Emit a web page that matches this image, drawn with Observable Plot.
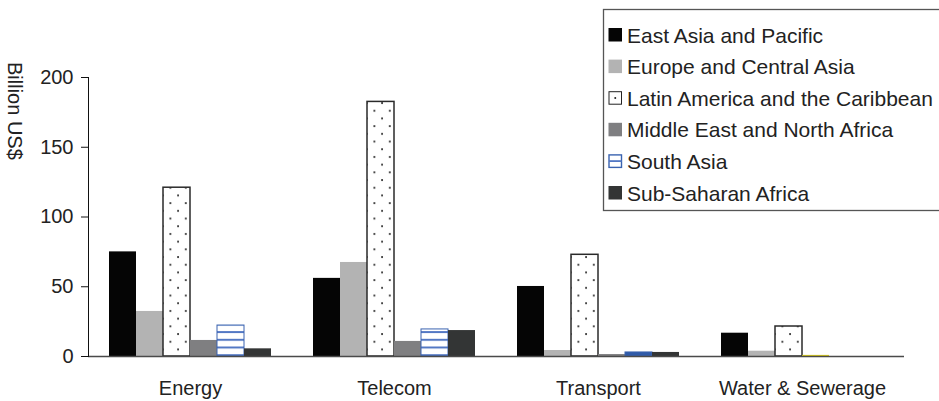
<!DOCTYPE html>
<html>
<head>
<meta charset="utf-8">
<script src="https://cdn.jsdelivr.net/npm/d3@7"></script>
<script src="https://cdn.jsdelivr.net/npm/@observablehq/plot@0.6"></script>
<style>
  body { margin: 0; background: #fff; }
  #chart { position: relative; width: 939px; height: 401px; overflow: hidden; background: #fff; }
</style>
</head>
<body>
<div id="chart"></div>
<script>
// Private investment in infrastructure by sector and region (billion US$)
const sectors = ["Energy", "Telecom", "Transport", "Water & Sewerage"];
const regions = [
  "East Asia and Pacific",
  "Europe and Central Asia",
  "Latin America and the Caribbean",
  "Middle East and North Africa",
  "South Asia",
  "Sub-Saharan Africa"
];
const eastAsiaPacific       = [75.0,  56.0, 50.2, 16.7];
const europeCentralAsia     = [32.3,  67.4,  4.3,  3.8];
const latinAmericaCaribbean = [121.0, 182.5, 72.9, 21.5];
const middleEastNorthAfrica = [11.5,  10.8,  1.4,  0.8];
const southAsia             = [22.2,  19.4,  2.9,  0];
const subSaharanAfrica      = [5.5,   18.6,  2.9,  0];
const yTicks = [0, 50, 100, 150, 200];

const seriesValues = [
  eastAsiaPacific, europeCentralAsia, latinAmericaCaribbean,
  middleEastNorthAfrica, southAsia, subSaharanAfrica
];

// Long-format table for the grouped bars
const rows = [];
regions.forEach((region, r) => {
  sectors.forEach((sector, s) => {
    const value = seriesValues[r][s];
    if (value > 0) rows.push({sector, region, value});
  });
});

// Fill styles per region (patterns are defined below in <defs>)
const regionFill = {
  "East Asia and Pacific": "#050505",
  "Europe and Central Asia": "#b3b3b3",
  "Latin America and the Caribbean": "url(#dots)",
  "Middle East and North Africa": "#7f7f81",
  "South Asia": "url(#stripes)",
  "Sub-Saharan Africa": "#333535"
};
const regionStroke = {
  "Latin America and the Caribbean": "#2a2a2a",
  "South Asia": "#3a63b0"
};
const fillOf = d => {
  if (d.sector === "Water & Sewerage" && d.region === "Middle East and North Africa") return "#e3d41c";
  // striped bars too short to show a stripe are drawn solid
  if (d.region === "South Asia" && d.value < 5) return "#2f5aa8";
  return regionFill[d.region];
};
const strokeOf = d => regionStroke[d.region] || "none";
const strokeWidthOf = d => d.region === "Latin America and the Caribbean" ? 1.5 : 1;

const plot = Plot.plot({
  width: 939,
  height: 401,
  marginLeft: 88,
  marginRight: 35,
  marginTop: 77,
  marginBottom: 45,
  style: {
    fontFamily: "'Liberation Sans', Arial, sans-serif",
    fontSize: "20px",
    color: "#222",
    background: "white"
  },
  fx: {domain: sectors, padding: 0, label: null},
  x: {domain: regions, paddingInner: 0, paddingOuter: 0.732, axis: null},
  y: {domain: [0, 200], label: null},
  color: {type: "identity"},
  marks: [
    Plot.barY(rows, {
      fx: "sector", x: "region", y: "value",
      fill: fillOf, stroke: strokeOf, strokeWidth: strokeWidthOf
    }),
    Plot.ruleY([0], {stroke: "#4a4a4a", strokeWidth: 1.3}),
    Plot.axisY({ticks: yTicks, tickSize: 7, tickPadding: 8, label: null, stroke: "#111"}),
    Plot.frame({anchor: "left", facetAnchor: "left", stroke: "#111"}),
    Plot.axisFx({anchor: "bottom", tickSize: 0, tickPadding: 24, label: null})
  ]
});

document.getElementById("chart").appendChild(plot);

const svg = d3.select(plot);

// Pattern fills: dotted (Latin America) and horizontal stripes (South Asia)
const defs = svg.insert("defs", ":first-child");
const dots = defs.append("pattern")
  .attr("id", "dots").attr("patternUnits", "userSpaceOnUse")
  .attr("width", 15.4).attr("height", 15.4);
dots.append("rect").attr("width", 15.4).attr("height", 15.4).attr("fill", "#fff");
dots.append("circle").attr("cx", 1).attr("cy", 3).attr("r", 1).attr("fill", "#222");
dots.append("circle").attr("cx", 8.7).attr("cy", 10.7).attr("r", 1).attr("fill", "#222");

const stripes = defs.append("pattern")
  .attr("id", "stripes").attr("patternUnits", "userSpaceOnUse")
  .attr("width", 8).attr("height", 7.7);
stripes.append("rect").attr("width", 8).attr("height", 7.7).attr("fill", "#fff");
stripes.append("rect").attr("y", 0).attr("width", 8).attr("height", 2).attr("fill", "#5378c4");

// Y-axis title, reading top to bottom
svg.append("text")
  .attr("transform", "translate(8,62) rotate(90)")
  .attr("text-anchor", "start")
  .attr("fill", "#222")
  .style("font-size", "20px")
  .text("Billion US$");

// Legend box in the upper right
const legend = svg.append("g").attr("transform", "translate(603.5,9.5)");
legend.append("rect")
  .attr("width", 400).attr("height", 201)
  .attr("fill", "#fff").attr("stroke", "#555").attr("stroke-width", 1.3);
regions.forEach((region, i) => {
  const cy = 25.5 + i * 31.6;
  const g = legend.append("g").attr("transform", `translate(5,${cy})`);
  if (region === "Latin America and the Caribbean") {
    g.append("rect").attr("x", 0.5).attr("y", -6.5).attr("width", 12.5).attr("height", 12.5)
      .attr("fill", "#fff").attr("stroke", "#222").attr("stroke-width", 1);
    g.append("circle").attr("cx", 6.75).attr("cy", -0.25).attr("r", 1).attr("fill", "#222");
  } else if (region === "South Asia") {
    g.append("rect").attr("x", 0.5).attr("y", -6.5).attr("width", 12.5).attr("height", 12.5)
      .attr("fill", "#fff").attr("stroke", "#3a63b0").attr("stroke-width", 1.4);
    g.append("rect").attr("x", 0.5).attr("y", -1.2).attr("width", 12.5).attr("height", 1.8)
      .attr("fill", "#5378c4");
  } else {
    g.append("rect").attr("x", 0).attr("y", -7).attr("width", 13.5).attr("height", 13.5)
      .attr("fill", regionFill[region]);
  }
  g.append("text")
    .attr("x", 18.5).attr("dy", "0.36em")
    .attr("text-anchor", "start")
    .attr("fill", "#222")
    .style("font-size", "21px")
    .text(region);
});
</script>
</body>
</html>
